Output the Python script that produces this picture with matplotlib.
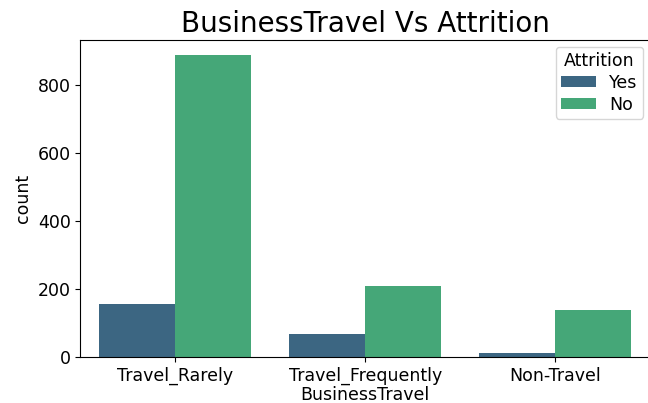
import matplotlib
matplotlib.use("Agg")
import matplotlib.pyplot as plt
import seaborn as sns
import pandas as pd

# counts per travel category and attrition
categories = ["Travel_Rarely", "Travel_Frequently", "Non-Travel"]
yes_counts = [156, 69, 12]
no_counts = [887, 208, 138]

df = pd.DataFrame({
    "BusinessTravel": categories * 2,
    "Attrition": ["Yes"] * 3 + ["No"] * 3,
    "count": yes_counts + no_counts,
})

plt.rcParams["font.size"] = 12.5
fig = plt.figure(figsize=(6.48, 4.03), dpi=100)
ax = fig.add_axes([0.124, 0.114, 0.879, 0.787])
sns.barplot(data=df, x="BusinessTravel", y="count", hue="Attrition",
            order=categories, hue_order=["Yes", "No"],
            palette=sns.color_palette("viridis", 2), saturation=0.75, ax=ax)
ax.set_title("BusinessTravel Vs Attrition", fontsize=20)
ax.xaxis.labelpad = 1
ax.legend(title="Attrition", loc="upper right", borderaxespad=0.4,
          labelspacing=0.22, borderpad=0.3, handleheight=0.6)
plt.savefig("out.png", dpi=100)
plt.close()
